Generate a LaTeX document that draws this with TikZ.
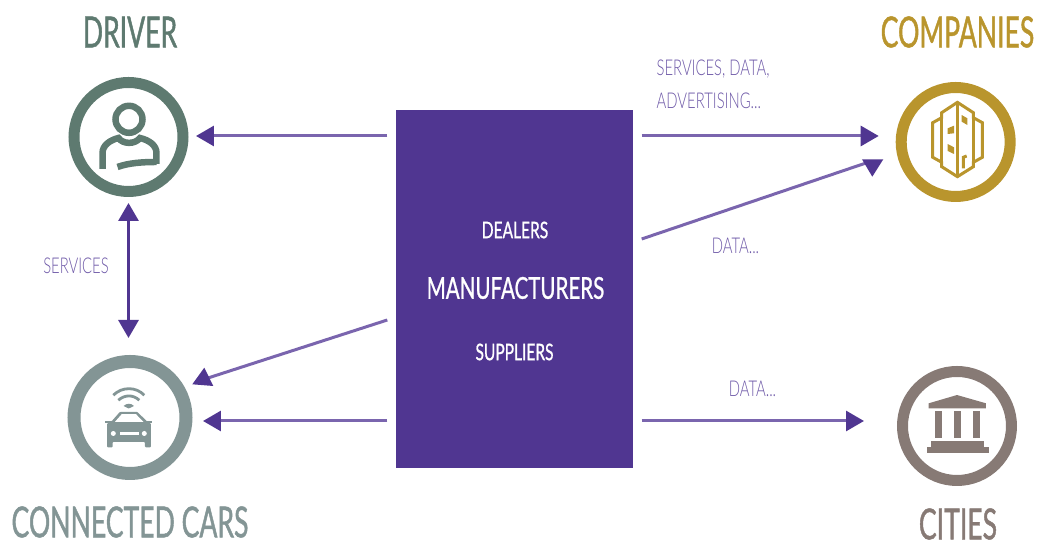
\documentclass[tikz,border=0pt]{standalone}
\usepackage{fontspec}
\setmainfont{Lato}[FakeStretch=0.68]
\newfontfamily\thinfont{Lato Light}[FakeStretch=0.68]
\newfontfamily\titlefont{Lato}[FakeStretch=0.62,FakeBold=1]
\newfontfamily\boxfont{Lato}[FakeStretch=0.68,FakeBold=.8]
\usepackage{xcolor}
\usetikzlibrary{arrows.meta,calc}
\definecolor{drivercol}{HTML}{5E7A70}
\definecolor{carscol}{HTML}{839595}
\definecolor{companycol}{HTML}{B9952D}
\definecolor{citycol}{HTML}{877A75}
\definecolor{boxcol}{HTML}{503691}
\definecolor{linecol}{HTML}{7A65AE}
\definecolor{notecol}{HTML}{6F5AA8}
\tikzset{
    ring/.style={circle, draw=#1, line width=.11cm, minimum size=1.09cm, inner sep=0pt},
    title/.style={text=#1, inner sep=0pt, font=\titlefont\fontsize{12.2}{14}\selectfont},
    inbox/.style={text=white, inner sep=0pt, font=\boxfont\fontsize{6.5}{8}\selectfont},
    note/.style={text=notecol, inner sep=0pt, font=\thinfont\fontsize{6.2}{8}\selectfont},
    flow/.style={linecol, line width=.03cm, -{Triangle[length=.18cm,width=.2cm,color=boxcol]}},
    flowline/.style={linecol, line width=.03cm},
    both/.style={boxcol, line width=.03cm, {Triangle[length=.18cm,width=.2cm]}-{Triangle[length=.18cm,width=.2cm]}},
    icon/.style={x=.01cm, y=-.01cm, shift={(#1)}}
}
\begin{document}
\begin{tikzpicture}
    \useasboundingbox (0,0) rectangle (10.38,5.40);

    \node[rectangle, fill=boxcol, minimum width=2.37cm, minimum height=3.58cm, inner sep=0pt] (manuf) at (5.145,2.51) {};
    \node[inbox] (dealers) at (5.15,3.10) {DEALERS};
    \node[inbox, font=\boxfont\fontsize{8.6}{10}\selectfont] (maker) at (5.155,2.52) {MANUFACTURERS};
    \node[inbox] (suppliers) at (5.145,1.88) {SUPPLIERS};

    \node[ring=drivercol] (driver) at (1.285,4.03) {};
    \node[ring=carscol, line width=.13cm, minimum size=1.12cm] (cars) at (1.30,1.225) {};
    \node[ring=companycol] (companies) at (9.557,3.98) {};
    \node[ring=citycol] (cities) at (9.57,1.14) {};

    \node[title=drivercol] (drivername) at (1.30,5.08) {DRIVER};
    \node[title=carscol] (carsname) at (1.30,.18) {CONNECTED CARS};
    \node[title=companycol] (companiesname) at (9.575,5.08) {COMPANIES};
    \node[title=citycol] (citiesname) at (9.58,.16) {CITIES};

    \node[note] (services) at (.76,2.74) {SERVICES};
    \node[note, anchor=west] (svcdata) at (6.56,4.71) {SERVICES, DATA,};
    \node[note, anchor=west] (advert) at (6.56,4.39) {ADVERTISING...};
    \node[note] (data1) at (7.355,2.94) {DATA...};
    \node[note] (data2) at (7.525,1.51) {DATA...};

    \draw[flow, shorten <=.08cm, shorten >=.075cm] ([yshift=.01cm]manuf.west |- driver.east) -- ([yshift=.01cm]driver.east);
    \draw[flow, shorten <=.08cm, shorten >=.105cm] ([yshift=-.035cm]manuf.west |- cars.east) -- ([yshift=-.035cm]cars.east);
    \draw[flow, shorten <=.08cm, shorten >=.17cm] ([yshift=.06cm]manuf.east |- companies.west) -- ([yshift=.06cm]companies.west);
    \draw[flow, shorten <=.08cm, shorten >=.33cm] ([yshift=.05cm]manuf.east |- cities.west) -- ([yshift=.05cm]cities.west);
    \draw[both, shorten <=.06cm, shorten >=.17cm] (driver.south) -- (driver.south |- cars.north);

    \coordinate (companytip) at (8.66,3.77);
    \coordinate (carstip) at (2.08,1.62);
    \draw[flowline] ([xshift=.08cm,yshift=.50cm]manuf.east) -- (companytip);
    \draw[flowline] ([xshift=-.08cm,yshift=-.31cm]manuf.west) -- (carstip);
    \fill[boxcol] (8.62,3.807) -- (8.833,3.807) -- (8.723,3.633) -- cycle;
    \fill[boxcol] (2.043,1.723) -- (1.923,1.557) -- (2.133,1.54) -- cycle;

    \begin{scope}[icon=driver.center, drivercol, line width=.065cm]
        \draw (.5,-17.7) circle (13.5);
        \draw (-26,32) -- (-26,16) .. controls (-26,8) and (-18,3) .. (-10,1) .. controls (-6,7) and (6,8) .. (11.5,1) .. controls (20,3) and (28,8) .. (28,16) -- (28,27);
        \draw (-11,30) .. controls (0,26) and (14,25) .. (28,25);
    \end{scope}

    \begin{scope}[icon=cars.center, carscol]
        \draw[line width=.028cm] (-16.7,-22.3) .. controls (-8,-31) and (6,-31) .. (14.3,-22.3);
        \draw[line width=.028cm] (-11.7,-17.3) .. controls (-5,-23) and (3,-23) .. (9.3,-17.3);
        \fill (-6.5,-11.5) .. controls (-3,-14.5) and (1,-14.5) .. (4,-11.5) -- (-1.3,-9) -- cycle;
        \fill[rounded corners=.01cm] (-23,6) -- (-18.3,3.7) -- (-10,-5.7) -- (7.3,-5.7) -- (16.7,3.7) -- (21,6) -- (21,30) -- (15,30) -- (15,24.3) -- (-17.3,24.3) -- (-17.3,30) -- (-23,30) -- cycle;
        \fill (-25,3.7) rectangle (-18,6);
        \fill (16.7,3.7) rectangle (22.3,6);
        \fill[white] (-15,4.3) -- (-8.3,-3.3) -- (6,-3.3) -- (13.3,4.3) -- cycle;
        \fill[white] (-16.7,16) circle (2.5);
        \fill[white] (14.3,16) circle (2.5);
        \fill[white] (-10,14.7) rectangle (9.3,17.3);
    \end{scope}

    \begin{scope}[icon=companies.center, companycol, line width=.03cm]
        \draw (1.7,-39.7) -- (-14,-29.3) -- (-14,-24.3) -- (-23,-19.3) -- (-23,15.3) -- (-14,20.3) -- (-14,24.7) -- (1.7,34.7) -- (17.7,24.7) -- (17.7,20.3) -- (26.7,15.3) -- (26.7,-19.3) -- (17.7,-24.3) -- (17.7,-29.3) -- cycle;
        \draw (-14,-24.3) -- (-14,20.3);
        \draw (17.7,-24.3) -- (17.7,20.3);
        \draw (1.7,-39.7) -- (1.7,34.7);
        \draw (7.7,26.3) -- (7.7,15.3) -- (11,14);
        \fill (6,-27) -- (11.7,-23.7) -- (11.7,-17) -- (6,-20.3) -- cycle;
        \fill (-8,-13.7) -- (-1.7,-16.3) -- (-1.7,-8.7) -- (-8,-8) -- cycle;
        \fill (-8,2) -- (-1.7,5.3) -- (-1.7,12) -- (-8,9) -- cycle;
    \end{scope}

    \begin{scope}[icon=cities.center, citycol]
        \fill (-28.3,-22.7) -- (0,-31) -- (29,-22.7) -- (29,-17.7) -- (-28.3,-17.7) -- cycle;
        \foreach \colx in {-22,-3.3,16} {
            \fill (\colx,-15) rectangle ({\colx+7},11.7);
        }
        \fill (-26,15) rectangle (27,21);
        \fill (-30,21) rectangle (32,27);
    \end{scope}
\end{tikzpicture}
\end{document}
